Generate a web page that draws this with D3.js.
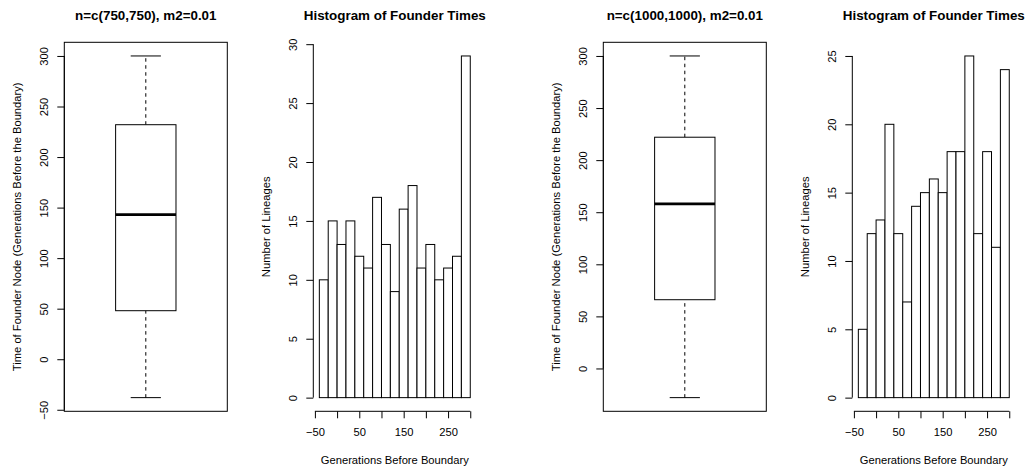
<!DOCTYPE html>
<html>
<head>
<meta charset="utf-8">
<script src="https://cdn.jsdelivr.net/npm/d3@7"></script>
<style>
  body { margin: 0; background: #fff; }
  svg text { font-family: "Liberation Sans", Arial, Helvetica, sans-serif; fill: #000; }
  .tick-lbl { font-size: 11.2px; }
  .ax-title { font-size: 11.2px; }
  .main-title { font-size: 13.4px; font-weight: bold; }
</style>
</head>
<body>
<svg id="chart" width="1028" height="472"></svg>
<script>
// Boxplot five-number summaries (min whisker, Q1, median, Q3, max whisker)
const box750  = [-38, 48, 143, 232, 300];
const box1000 = [-28, 66, 158, 222, 300];

// Histogram bin edges and counts of founder times
const breaks = [-40, -20, 0, 20, 40, 60, 80, 100, 120, 140, 160, 180, 200, 220, 240, 260, 280, 300];
const counts750  = [10, 15, 13, 15, 12, 11, 17, 13, 9, 16, 18, 11, 13, 10, 11, 12, 29];
const counts1000 = [5, 12, 13, 20, 12, 7, 14, 15, 16, 15, 18, 18, 25, 12, 18, 11, 24];

// Tick labels
const boxTicks750  = [-50, 0, 50, 100, 150, 200, 250, 300];
const boxTicks1000 = [0, 50, 100, 150, 200, 250, 300];
const histTicks750  = [0, 5, 10, 15, 20, 25, 30];
const histTicks1000 = [0, 5, 10, 15, 20, 25];
const histXTicks  = [-50, 0, 50, 100, 150, 200, 250, 300];
const histXLabels = [-50, 50, 150, 250];

const titles = ['n=c(750,750), m2=0.01', 'Histogram of Founder Times',
                'n=c(1000,1000), m2=0.01', 'Histogram of Founder Times'];
const boxYLabel = 'Time of Founder Node (Generations Before the Boundary)';
const histYLabel = 'Number of Lineages';
const histXLabel = 'Generations Before Boundary';

// plot regions (R par mfrow layout)
const lefts = [64.3, 313.3, 603.3, 852.3];
const PW = 163, TOP = 42.3, BOT = 411.3;

const svg = d3.select('#chart');
const fmt = d3.format('');

// R pads axis ranges by 4% on each side
function pad(lo, hi) {
  const d = (hi - lo) * 0.04;
  return [lo - d, hi + d];
}

function yAxis(g, y, ticks, left) {
  const ax = g.append('g')
    .attr('transform', `translate(${left},0)`)
    .call(d3.axisLeft(y).tickValues(ticks).tickSize(7).tickFormat(fmt));
  ax.attr('font-size', null).attr('font-family', null);
  ax.select('.domain').remove();
  ax.append('line')
    .attr('y1', y(ticks[0])).attr('y2', y(ticks[ticks.length - 1]))
    .attr('stroke', '#000');
  ax.selectAll('.tick line').attr('stroke', '#000');
  ax.selectAll('.tick text')
    .attr('class', 'tick-lbl')
    .attr('x', null).attr('dy', null)
    .attr('transform', 'translate(-16,0) rotate(-90)')
    .attr('text-anchor', 'middle');
}

function titlesFor(g, i, ylab) {
  const cx = lefts[i] + PW / 2;
  g.append('text')
    .attr('class', 'main-title')
    .attr('x', cx).attr('y', 20)
    .attr('text-anchor', 'middle')
    .text(titles[i]);
  g.append('text')
    .attr('class', 'ax-title')
    .attr('transform', `translate(${lefts[i] - 43},${(TOP + BOT) / 2}) rotate(-90)`)
    .attr('text-anchor', 'middle')
    .text(ylab);
}

function drawBox(i, stats, ticks) {
  const g = svg.append('g');
  const left = lefts[i];
  const x = d3.scaleLinear().domain(pad(0.5, 1.5)).range([left, left + PW]);
  const y = d3.scaleLinear().domain(pad(stats[0], stats[4])).range([BOT, TOP]);

  g.append('rect')
    .attr('x', left).attr('y', TOP)
    .attr('width', PW).attr('height', BOT - TOP)
    .attr('fill', 'none').attr('stroke', '#000');

  // whiskers
  [[stats[0], stats[1]], [stats[3], stats[4]]].forEach(([a, b]) => {
    g.append('line')
      .attr('x1', x(1)).attr('x2', x(1))
      .attr('y1', y(a)).attr('y2', y(b))
      .attr('stroke', '#000').attr('stroke-dasharray', '3.5,3.5');
  });
  [stats[0], stats[4]].forEach(v => {
    g.append('line')
      .attr('x1', x(0.9)).attr('x2', x(1.1))
      .attr('y1', y(v)).attr('y2', y(v))
      .attr('stroke', '#000');
  });

  g.append('rect')
    .attr('x', x(0.8)).attr('y', y(stats[3]))
    .attr('width', x(1.2) - x(0.8)).attr('height', y(stats[1]) - y(stats[3]))
    .attr('fill', '#fff').attr('stroke', '#000');

  g.append('line')
    .attr('x1', x(0.8)).attr('x2', x(1.2))
    .attr('y1', y(stats[2])).attr('y2', y(stats[2]))
    .attr('stroke', '#000').attr('stroke-width', 2.8);

  yAxis(g, y, ticks, left);
  titlesFor(g, i, boxYLabel);
}

function drawHist(i, counts, ticks) {
  const g = svg.append('g');
  const left = lefts[i];
  const x = d3.scaleLinear().domain(pad(breaks[0], breaks[breaks.length - 1])).range([left, left + PW]);
  const y = d3.scaleLinear().domain(pad(0, d3.max(counts))).range([BOT, TOP]);

  g.selectAll('rect.bar')
    .data(counts)
    .join('rect')
    .attr('class', 'bar')
    .attr('x', (d, k) => x(breaks[k]))
    .attr('width', (d, k) => x(breaks[k + 1]) - x(breaks[k]))
    .attr('y', d => y(d))
    .attr('height', d => y(0) - y(d))
    .attr('fill', '#fff')
    .attr('stroke', '#000');

  yAxis(g, y, ticks, left);

  const ax = g.append('g')
    .attr('transform', `translate(0,${BOT})`)
    .call(d3.axisBottom(x).tickValues(histXTicks).tickSize(7)
      .tickFormat(v => histXLabels.includes(v) ? d3.format('')(v) : ''));
  ax.attr('font-size', null).attr('font-family', null);
  ax.select('.domain').remove();
  ax.append('line')
    .attr('x1', x(histXTicks[0])).attr('x2', x(histXTicks[histXTicks.length - 1]))
    .attr('stroke', '#000');
  ax.selectAll('.tick line').attr('stroke', '#000');
  ax.selectAll('.tick text')
    .attr('class', 'tick-lbl')
    .attr('y', 24.5).attr('dy', null);

  g.append('text')
    .attr('class', 'ax-title')
    .attr('x', left + PW / 2).attr('y', 464)
    .attr('text-anchor', 'middle')
    .text(histXLabel);

  titlesFor(g, i, histYLabel);
}

drawBox(0, box750, boxTicks750);
drawHist(1, counts750, histTicks750);
drawBox(2, box1000, boxTicks1000);
drawHist(3, counts1000, histTicks1000);
</script>
</body>
</html>
